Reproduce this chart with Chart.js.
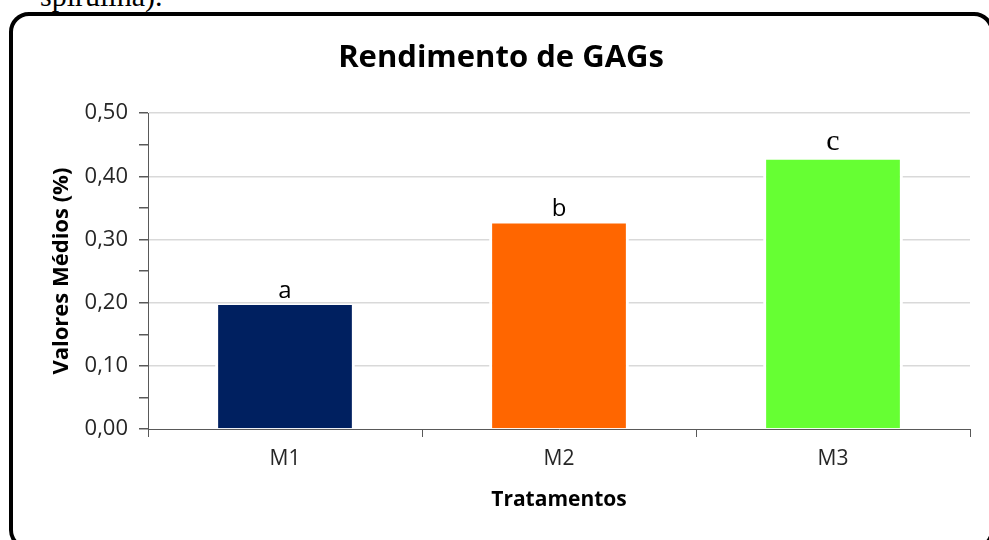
<!DOCTYPE html>
<html>
<head>
<meta charset="utf-8">
<script src="https://cdn.jsdelivr.net/npm/chart.js@4"></script>
<style>
  html, body { margin: 0; padding: 0; background: #fff; overflow: hidden; }
  #page { position: relative; width: 989px; height: 540px; }
  #above {
    position: absolute; left: 40px; top: -21px;
    font: 30px "Liberation Serif", serif; color: #000;
  }
  #frame {
    position: absolute; left: 9px; top: 12px; width: 977px; height: 530px;
    border: 4px solid #000; border-radius: 20px;
  }
  #wrap { position: absolute; left: 0; top: 0; width: 989px; height: 540px; }
</style>
</head>
<body>
<div id="page">
  <div id="above">spirulina).</div>
  <div id="frame"></div>
  <div id="wrap"><canvas id="grafico"></canvas></div>
</div>
<script>
const tratamentos = ['M1', 'M2', 'M3'];
const valoresMedios = [0.198, 0.327, 0.428];
const letras = ['a', 'b', 'c'];
const coresBarras = ['#002060', '#FF6600', '#66FF33'];

const ctx = document.getElementById('grafico');

function ehMaior(valor) {
  return Math.round(valor * 100) % 10 === 0;
}

// letras de significância acima das barras
const letrasPlugin = {
  id: 'letras',
  afterDatasetsDraw(chart, args, opts) {
    const c = chart.ctx;
    const meta = chart.getDatasetMeta(0);
    c.save();
    c.fillStyle = '#000';
    c.textAlign = 'center';
    c.textBaseline = 'alphabetic';
    meta.data.forEach((bar, i) => {
      c.font = opts.fonts[i];
      c.fillText(letras[i], bar.x, bar.y - opts.offsets[i]);
    });
    c.restore();
  },
};

new Chart(ctx, {
  type: 'bar',
  data: {
    labels: tratamentos,
    datasets: [{
      data: valoresMedios,
      backgroundColor: coresBarras,
      borderColor: '#ffffff',
      borderWidth: { left: 3, right: 3, top: 1, bottom: 0 },
      borderSkipped: false,
      categoryPercentage: 1,
      barPercentage: 0.51,
    }],
  },
  options: {
    responsive: true,
    maintainAspectRatio: false,
    animation: false,
    layout: { padding: { left: 32, right: 19, top: 0, bottom: 0 } },
    plugins: {
      legend: { display: false },
      tooltip: { enabled: false },
      title: {
        display: true,
        text: 'Rendimento de GAGs',
        color: '#000',
        font: { family: 'Open Sans', size: 31, weight: 'bold' },
        padding: { top: 40, bottom: 36 },
      },
      letras: {
        fonts: ['24px "Open Sans"', '24px "Open Sans"', '30px "Liberation Serif"'],
        offsets: [6, 6, 9],
      },
    },
    scales: {
      x: {
        afterFit(scale) { scale.height = 111; },
        grid: {
          offset: true,
          drawOnChartArea: false,
          tickLength: 8,
          tickColor: '#595959',
        },
        border: { color: '#595959', width: 1 },
        ticks: {
          color: '#262626',
          padding: 9,
          font: { family: 'Open Sans', size: 21 },
        },
        title: {
          display: true,
          text: 'Tratamentos',
          color: '#000',
          font: { family: 'Open Sans', size: 21, weight: 'bold' },
          padding: { top: 0, bottom: 27 },
        },
      },
      y: {
        min: 0,
        max: 0.5,
        afterFit(scale) { scale.width = 116; },
        grid: {
          color: (c) => (c.tick && ehMaior(c.tick.value) && c.tick.value > 0 ? '#d9d9d9' : 'rgba(0,0,0,0)'),
          lineWidth: 1.5,
          tickLength: 9,
          tickColor: '#595959',
        },
        border: { color: '#595959', width: 1 },
        ticks: {
          stepSize: 0.05,
          autoSkip: false,
          color: '#262626',
          padding: 11,
          font: { family: 'Open Sans', size: 22 },
          callback: (v) => (ehMaior(v) ? v.toFixed(2).replace('.', ',') : ''),
        },
        title: {
          display: true,
          text: 'Valores Médios (%)',
          color: '#000',
          font: { family: 'Open Sans', size: 22, weight: 'bold' },
          padding: { top: 17, bottom: 0 },
        },
      },
    },
  },
  plugins: [letrasPlugin],
});
</script>
</body>
</html>
